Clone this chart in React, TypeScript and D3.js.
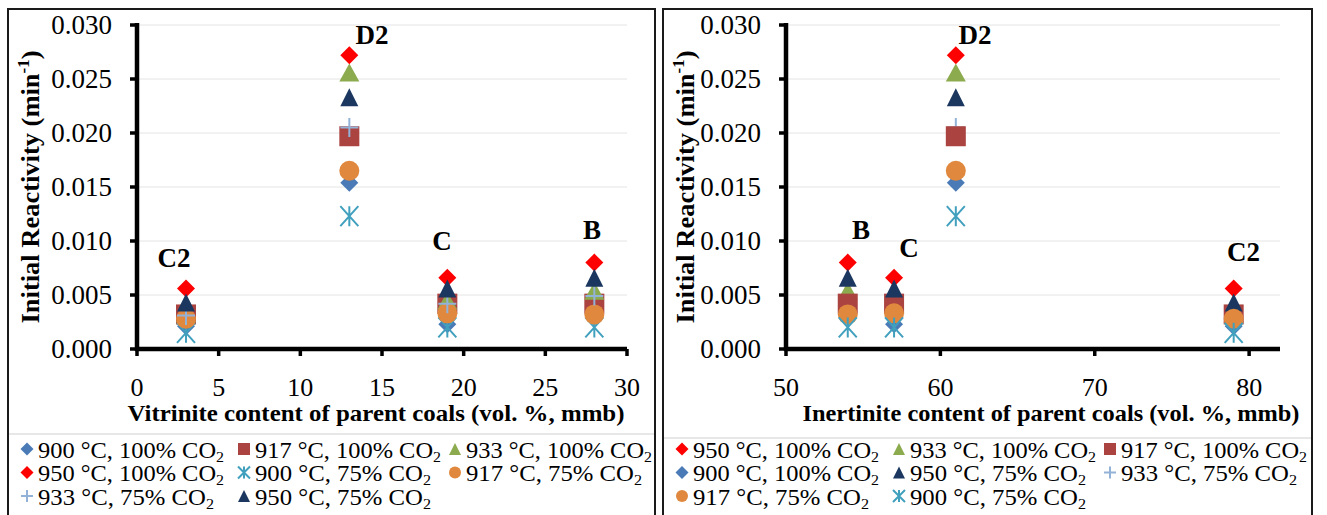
import React from "react";
import * as d3 from "d3";

// coals and their maceral contents
const coals = ["C2", "D2", "C", "B"];
const vitrinite = [3, 13, 19, 28];
const inertinite = [79, 61, 57, 54];

// initial reactivity (min-1), same coal order
const r900_100 = [0.0021, 0.0154, 0.0023, 0.003];
const r917_100 = [0.0032, 0.0197, 0.0042, 0.0042];
const r933_100 = [0.0033, 0.0256, 0.0045, 0.0054];
const r950_100 = [0.0056, 0.0272, 0.0066, 0.008];
const r900_75 = [0.0015, 0.0123, 0.002, 0.002];
const r917_75 = [0.0028, 0.0165, 0.0033, 0.0032];
const r933_75 = [0.0031, 0.0205, 0.0042, 0.0049];
const r950_75 = [0.0043, 0.0233, 0.0056, 0.0066];

const yTicks = [0, 0.005, 0.01, 0.015, 0.02, 0.025, 0.03];
const vitTicks = [0, 5, 10, 15, 20, 25, 30];
const ineTicks = [50, 60, 70, 80];

// coal name annotations, in data units
const vitLabelX = [2.27, 14.39, 18.67, 27.86];
const vitLabelY = [0.0084, 0.0291, 0.01, 0.011];
const ineLabelX = [79.64, 62.25, 57.97, 54.86];
const ineLabelY = [0.009, 0.0291, 0.0094, 0.011];

const tf = { fontFamily: "Liberation Serif" };

type Shape = "diamond" | "square" | "triangle" | "circle" | "plus" | "star";
type Series = {
  key: string;
  temp: number;
  pct: number;
  values: number[];
  shape: Shape;
  color: string;
  w: number;
  h: number;
};

const series: Series[] = [
  { key: "a", temp: 900, pct: 100, values: r900_100, shape: "diamond", color: "#4a7bb7", w: 18, h: 18 },
  { key: "b", temp: 917, pct: 100, values: r917_100, shape: "square", color: "#ab4441", w: 20, h: 20 },
  { key: "c", temp: 933, pct: 100, values: r933_100, shape: "triangle", color: "#8cab4f", w: 20, h: 18 },
  { key: "d", temp: 950, pct: 100, values: r950_100, shape: "diamond", color: "#ff0000", w: 18, h: 18 },
  { key: "e", temp: 900, pct: 75, values: r900_75, shape: "star", color: "#41a0bd", w: 18, h: 20 },
  { key: "f", temp: 917, pct: 75, values: r917_75, shape: "circle", color: "#e0883d", w: 20, h: 20 },
  { key: "g", temp: 933, pct: 75, values: r933_75, shape: "plus", color: "#93b2d8", w: 18, h: 19 },
  { key: "h", temp: 950, pct: 75, values: r950_75, shape: "triangle", color: "#1b375f", w: 18, h: 18 },
];

const byKey = (k: string) => series.find((s) => s.key === k)!;

function Marker({ s, x, y, w, h }: { s: Series; x: number; y: number; w: number; h: number }) {
  const a = w / 2;
  const b = h / 2;
  switch (s.shape) {
    case "diamond":
      return <path d={`M${x},${y - b}L${x + a},${y}L${x},${y + b}L${x - a},${y}Z`} fill={s.color} />;
    case "square":
      return <rect x={x - a} y={y - b} width={w} height={h} fill={s.color} />;
    case "triangle":
      return <path d={`M${x},${y - b}L${x + a},${y + b}L${x - a},${y + b}Z`} fill={s.color} />;
    case "circle":
      return <ellipse cx={x} cy={y} rx={a} ry={b} fill={s.color} />;
    case "plus":
      return <path d={`M${x - a},${y}H${x + a}M${x},${y - b}V${y + b}`} stroke={s.color} strokeWidth={2} />;
    default:
      return (
        <path
          d={`M${x - a},${y - b}L${x + a},${y + b}M${x + a},${y - b}L${x - a},${y + b}M${x},${y - b}V${y + b}`}
          stroke={s.color}
          strokeWidth={2}
        />
      );
  }
}

type PanelProps = {
  id: string;
  frameL: number;
  frameR: number;
  xDomain: [number, number];
  xRange: [number, number];
  xTicks: number[];
  xs: number[];
  drawOrder: string[];
  legendOrder: string[];
  labelX: number[];
  labelY: number[];
  xTitle: string;
  xTitleCx: number;
  sepY: number;
};

function Panel(p: PanelProps) {
  const x = d3.scaleLinear().domain(p.xDomain).range(p.xRange);
  const y = d3.scaleLinear().domain([0, 0.03]).range([349, 25]);
  const x0 = p.xRange[0];
  const xEnd = p.xRange[1];
  const yTitleX = p.frameL + 31;
  const cols = [30, 247, 458];
  const rows = [457.5, 481, 504.5];
  return (
    <g>
      <defs>
        <clipPath id={`clip-${p.id}`}>
          <rect x={p.frameL} y={9} width={p.frameR - p.frameL} height={520} />
        </clipPath>
      </defs>
      <g clipPath={`url(#clip-${p.id})`}>
        {/* grid */}
        {yTicks.slice(1).map((t) => (
          <line key={t} x1={x0} x2={xEnd} y1={y(t)} y2={y(t)} stroke="#e4e4e4" strokeWidth={1} />
        ))}
        {/* y axis */}
        <line x1={x0} x2={x0} y1={y(0.03) - 2} y2={y(0) + 2} stroke="#000" strokeWidth={4.5} />
        {yTicks.map((t) => (
          <g key={t}>
            <line x1={x0 - 7} x2={x0} y1={y(t)} y2={y(t)} stroke="#000" strokeWidth={3.5} />
            <text x={x0 - 25} y={y(t)} dy="0.34em" textAnchor="end" fontSize={27} fill="#000" style={tf}>
              {d3.format(".3f")(t)}
            </text>
          </g>
        ))}
        {/* x axis */}
        <line x1={x0 - 2} x2={xEnd} y1={y(0)} y2={y(0)} stroke="#000" strokeWidth={4.5} />
        {p.xTicks.map((t) => (
          <g key={t}>
            <line x1={x(t)} x2={x(t)} y1={y(0)} y2={y(0) + 7} stroke="#000" strokeWidth={3.5} />
            <text x={x(t)} y={396} textAnchor="middle" fontSize={26} fill="#000" style={tf}>
              {t}
            </text>
          </g>
        ))}
        <text
          x={p.xTitleCx}
          y={421}
          textAnchor="middle"
          fontSize={23}
          fontWeight="bold"
          textLength={497}
          lengthAdjust="spacingAndGlyphs"
          style={tf}
        >
          {p.xTitle}
        </text>
        <text
          transform={`translate(${yTitleX},187) rotate(-90)`}
          textAnchor="middle"
          fontSize={25}
          fontWeight="bold"
          textLength={273}
          lengthAdjust="spacingAndGlyphs"
          style={tf}
        >
          Initial Reactivity (min
          <tspan dy={-10} fontSize={16}>
            -1
          </tspan>
          <tspan dy={10}>)</tspan>
        </text>
        {/* points */}
        {p.drawOrder.map((k) => {
          const s = byKey(k);
          return (
            <g key={k}>
              {s.values.map((v, i) => (
                <Marker key={i} s={s} x={x(p.xs[i])} y={y(v)} w={s.w} h={s.h} />
              ))}
            </g>
          );
        })}
        {coals.map((c, i) => (
          <text
            key={c}
            x={x(p.labelX[i])}
            y={y(p.labelY[i])}
            dy="0.34em"
            textAnchor="middle"
            fontSize={27}
            fontWeight="bold"
            style={tf}
          >
            {c}
          </text>
        ))}
        {/* legend */}
        <line x1={p.frameL} x2={p.frameR} y1={p.sepY} y2={p.sepY} stroke="#cfcfcf" strokeWidth={1.2} />
        {p.legendOrder.map((k, i) => {
          const s = byKey(k);
          const tx = p.frameL + cols[i % 3];
          const ty = rows[Math.floor(i / 3)];
          const mw = s.shape === "diamond" ? 13 : 12;
          return (
            <g key={k}>
              <Marker s={s} x={tx - 11} y={ty - 8.5} w={mw} h={mw} />
              <text
                x={tx}
                y={ty}
                fontSize={23}
                fill="#000"
                style={tf}
                textLength={s.pct === 100 ? 186 : 176}
                lengthAdjust="spacingAndGlyphs"
              >
                {`${s.temp} °C, ${s.pct}% CO`}
                <tspan dy={4} fontSize={15}>
                  2
                </tspan>
              </text>
            </g>
          );
        })}
      </g>
      <rect
        x={p.frameL}
        y={9}
        width={p.frameR - p.frameL}
        height={520}
        fill="none"
        stroke="#1a1a1a"
        strokeWidth={2}
      />
    </g>
  );
}

export default function App() {
  return (
    <div style={{ position: "fixed", left: 0, top: 0 }}>
      <svg width={1327} height={515} style={{ display: "block", background: "#fff" }}>
        <rect width={1327} height={515} fill="#fff" />
        <Panel
          id="vit"
          frameL={8}
          frameR={655}
          xDomain={[0, 30]}
          xRange={[137, 627]}
          xTicks={vitTicks}
          xs={vitrinite}
          drawOrder={["a", "b", "c", "d", "e", "f", "g", "h"]}
          legendOrder={["a", "b", "c", "d", "e", "f", "g", "h"]}
          labelX={vitLabelX}
          labelY={vitLabelY}
          xTitle="Vitrinite content of parent coals (vol. %, mmb)"
          xTitleCx={376}
          sepY={434}
        />
        <Panel
          id="ine"
          frameL={663}
          frameR={1312}
          xDomain={[50, 82]}
          xRange={[786, 1280]}
          xTicks={ineTicks}
          xs={inertinite}
          drawOrder={["g", "d", "c", "b", "a", "h", "f", "e"]}
          legendOrder={["d", "c", "b", "a", "h", "g", "f", "e"]}
          labelX={ineLabelX}
          labelY={ineLabelY}
          xTitle="Inertinite content of parent coals (vol. %, mmb)"
          xTitleCx={1051}
          sepY={438}
        />
      </svg>
    </div>
  );
}
